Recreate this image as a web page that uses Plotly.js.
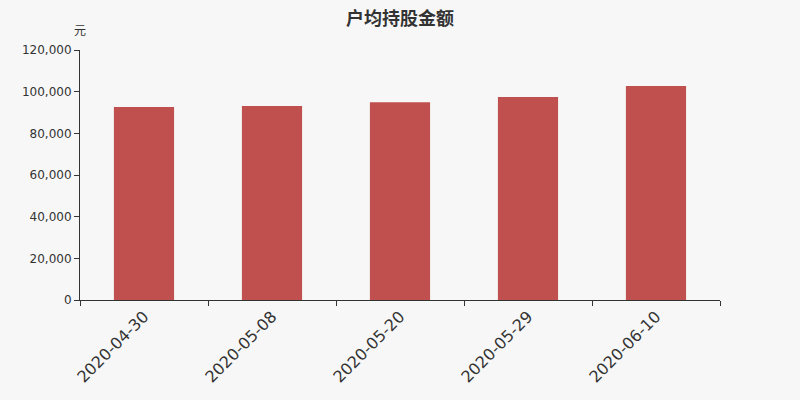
<!DOCTYPE html>
<html>
<head>
<meta charset="utf-8">
<script src="https://cdn.plot.ly/plotly-3.0.1.min.js"></script>
<style>
  body { margin: 0; background: #f7f7f7; }
  #chart { width: 800px; height: 400px; }
</style>
</head>
<body>
<div id="chart"></div>
<script>
// dates and average holding value per shareholder (yuan)
var dates = ['2020-04-30', '2020-05-08', '2020-05-20', '2020-05-29', '2020-06-10'];
var values = [92600, 93100, 94900, 97400, 102700];
var yTicks = [0, 20000, 40000, 60000, 80000, 100000, 120000];

var data = [
  {
    x: dates,
    y: values,
    type: 'bar',
    marker: { color: '#c0504d' },
    hoverinfo: 'x+y',
  },
];

var layout = {
  width: 800,
  height: 400,
  paper_bgcolor: '#f7f7f7',
  plot_bgcolor: '#f7f7f7',
  margin: { l: 80, r: 80, t: 50, b: 100 },
  font: { family: 'DejaVu Sans, sans-serif', color: '#333', size: 12 },
  title: {
    text: '<b>户均持股金额</b>',
    x: 0.5,
    y: 0.97,
    yanchor: 'top',
    font: { family: 'Noto Sans CJK SC, sans-serif', size: 18, color: '#333' },
  },
  bargap: 0.53,
  showlegend: false,
  xaxis: {
    type: 'category',
    tickangle: -45,
    tickfont: { size: 16, color: '#333' },
    showline: true,
    linecolor: '#333',
    ticks: 'outside',
    tickson: 'boundaries',
    ticklen: 5,
    tickcolor: '#333',
    showgrid: false,
    zeroline: false,
  },
  yaxis: {
    range: [0, 120000],
    tickvals: yTicks,
    tickformat: ',d',
    tickfont: { size: 12, color: '#333' },
    showline: true,
    linecolor: '#333',
    ticks: 'outside',
    ticklen: 5,
    tickcolor: '#333',
    showgrid: false,
    zeroline: false,
  },
  annotations: [
    {
      text: '元',
      xref: 'paper',
      yref: 'paper',
      x: 0,
      y: 1.04,
      xanchor: 'center',
      yanchor: 'bottom',
      showarrow: false,
      font: { family: 'Noto Sans CJK SC, sans-serif', size: 12, color: '#333' },
    },
  ],
};

Plotly.newPlot('chart', data, layout, { displayModeBar: false });
</script>
</body>
</html>
